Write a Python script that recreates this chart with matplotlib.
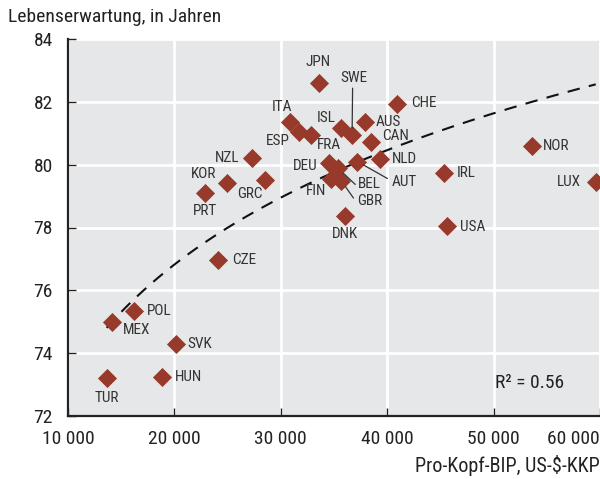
import numpy as np
import matplotlib
matplotlib.use("Agg")
import matplotlib.pyplot as plt
from matplotlib import font_manager

# ---------------- data ----------------
countries = ["JPN", "SWE", "ITA", "ESP", "FRA", "ISL", "AUS", "CHE", "CAN", "NLD",
             "AUT", "DEU", "BEL", "FIN", "GBR", "DNK", "NZL", "KOR", "PRT", "GRC",
             "CZE", "POL", "MEX", "SVK", "HUN", "TUR", "IRL", "USA", "NOR", "LUX"]
gdp_per_capita = [33600, 36700, 30900, 31700, 32800, 35700, 37900, 40900, 38500, 39300,
                  37200, 34500, 35400, 34700, 35700, 36050, 27300, 24900, 22850, 28500,
                  24070, 16190, 14100, 20130, 18790, 13630, 45300, 45600, 53600, 59600]
life_expectancy = [82.6, 80.94, 81.37, 81.05, 80.94, 81.16, 81.37, 81.93, 80.71, 80.17,
                   80.1, 80.04, 79.88, 79.53, 79.48, 78.38, 80.21, 79.42, 79.1, 79.51,
                   76.97, 75.34, 75.0, 74.29, 73.23, 73.2, 79.75, 78.05, 80.6, 79.44]
x_ticks = [10000, 20000, 30000, 40000, 50000, 60000]
x_tick_labels = ["10 000", "20 000", "30 000", "40 000", "50 000", "60 000"]
y_ticks = [72, 74, 76, 78, 80, 82, 84]
r2_text = "R² = 0.56"
title_text = "Lebenserwartung, in Jahren"
xlabel_text = "Pro-Kopf-BIP, US-$-KKP"

# ---------------- styling ----------------
names = {f.name for f in font_manager.fontManager.ttflist}
FONT = "DejaVu Sans"
for cand in ["Liberation Sans Narrow", "Roboto Condensed", "Open Sans Condensed",
             "Noto Sans Condensed", "DejaVu Sans Condensed", "Roboto"]:
    if cand in names:
        FONT = cand
        break
plt.rcParams["font.family"] = [FONT, "DejaVu Sans"]

BG = "#e6e7e8"
MARK = "#973a2b"
TXT = "#333333"

# label offsets in pixels (dx, dy, ha)
label_pos = {
    "JPN": (-1, 21, "center"), "SWE": (2, 57, "center"),
    "ITA": (-8, 15, "center"), "ISL": (-15, 10, "center"),
    "AUS": (11, 0, "left"), "CHE": (14, 1, "left"),
    "ESP": (-21, -9, "center"), "FRA": (18, -10, "center"),
    "CAN": (11, 6, "left"), "NLD": (12, 0, "left"),
    "AUT": (34, -20, "left"), "DEU": (-11, -3, "right"),
    "BEL": (20, -16, "left"), "FIN": (-15, -12, "center"),
    "GBR": (16, -20, "left"), "DNK": (0, -18, "center"),
    "NZL": (-13, 0, "right"), "KOR": (-10, 9, "right"),
    "PRT": (0, -18, "center"), "GRC": (-15, -14, "center"),
    "CZE": (14, 0, "left"), "POL": (13, 0, "left"),
    "MEX": (11, -8, "left"), "SVK": (12, 0, "left"),
    "HUN": (13, 0, "left"), "TUR": (0, -20, "center"),
    "IRL": (13, 0, "left"), "USA": (13, -1, "left"),
    "NOR": (11, 0, "left"), "LUX": (-15, 0, "right"),
}

fig = plt.figure(figsize=(6.0, 4.79), dpi=100)
ax = fig.add_axes([68 / 600, 1 - 416 / 479, 532 / 600, 377 / 479])
ax.set_facecolor(BG)
ax.set_xlim(10000, 60000)
ax.set_ylim(72, 84)

ax.set_xticks(x_ticks)
ax.set_xticklabels(x_tick_labels)
ax.set_yticks(y_ticks)
ax.grid(True, color="white", lw=2)
ax.set_axisbelow(True)
for s in ["top", "right"]:
    ax.spines[s].set_visible(False)
for s in ["left", "bottom"]:
    ax.spines[s].set_color("#222222")
    ax.spines[s].set_linewidth(1.6)
ax.tick_params(direction="in", length=6, width=1, color="#222222",
               labelsize=14, labelcolor="#222222")
ax.tick_params(axis="x", pad=10)
ax.tick_params(axis="y", pad=11)
ax.get_xticklabels()[-1].set_ha("right")

# trend line (log fit through data)
gx = np.array(gdp_per_capita, dtype=float)
ly = np.array(life_expectancy, dtype=float)
b, a = np.polyfit(np.log(gx), ly, 1)
xs = np.linspace(gx.min(), gx.max(), 200)
ax.plot(xs, a + b * np.log(xs), ls=(0, (6, 4.5)), color="#111111", lw=1.5, zorder=2)

ax.scatter(gx, ly, marker="D", s=95, color=MARK, zorder=3, linewidths=0)

for c, x, y in zip(countries, gx, ly):
    dx, dy, ha = label_pos[c]
    ax.annotate(c, (x, y), xytext=(dx, dy), textcoords="offset pixels",
                ha=ha, va="center", fontsize=11, color=TXT, zorder=4)

# leader lines
iS = countries.index("SWE")
ax.annotate("", xy=(gx[iS], ly[iS]), xycoords="data",
            xytext=(0.5, 47), textcoords="offset pixels",
            arrowprops=dict(arrowstyle="-", color=TXT, lw=0.9, shrinkA=0, shrinkB=5))
for c, off in [("AUT", (30, -17)), ("BEL", (17, -16)), ("GBR", (12, -17))]:
    i = countries.index(c)
    ax.annotate("", xy=(gx[i], ly[i]), xycoords="data",
                xytext=off, textcoords="offset pixels",
                arrowprops=dict(arrowstyle="-", color=TXT, lw=0.9, shrinkA=0, shrinkB=5))

ax.text(0.8026, 0.088, r2_text, transform=ax.transAxes, fontsize=14,
        color="#222222", ha="left", va="center")

fig.text(8 / 600, 1 - 17 / 479, title_text, fontsize=14, color="#222222",
         ha="left", va="center")
fig.text(1.0, 1 - 466 / 479, xlabel_text, fontsize=14.5, color="#222222",
         ha="right", va="center")

fig.savefig("out.png", dpi=100, facecolor="white")
